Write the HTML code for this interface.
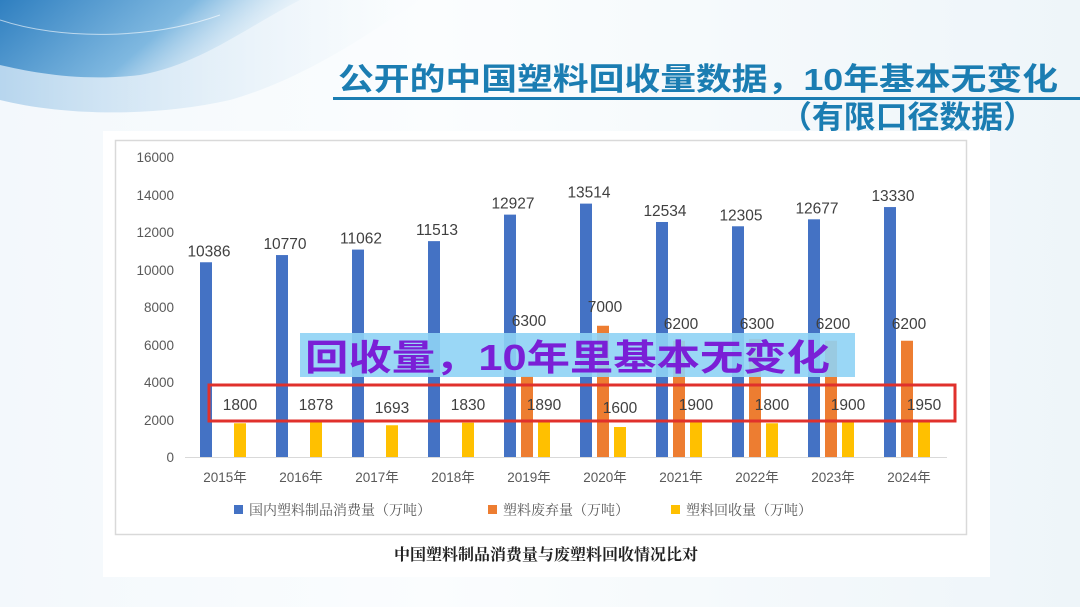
<!DOCTYPE html>
<html><head><meta charset="utf-8"><style>
html,body{margin:0;padding:0}
body{width:1080px;height:607px;overflow:hidden;position:relative;background:linear-gradient(90deg,#f3f8fc 0%,#fbfdfe 40%,#eef5f9 100%);font-family:"Liberation Sans","Noto Sans CJK SC",sans-serif}
</style></head><body>
<svg width="1080" height="607" viewBox="0 0 1080 607" style="position:absolute;left:0;top:0">
<defs>
<linearGradient id="w1" x1="0" y1="0" x2="1" y2="0.3"><stop offset="0" stop-color="#2f7fc0"/><stop offset="0.6" stop-color="#7fb8e0"/><stop offset="1" stop-color="#dcecf7" stop-opacity="0"/></linearGradient>
<linearGradient id="w2" x1="0" y1="0" x2="1" y2="0"><stop offset="0" stop-color="#a8cdea"/><stop offset="1" stop-color="#e6f1f9" stop-opacity="0"/></linearGradient>
</defs>
<path d="M0 0 L420 0 C360 40 300 80 230 100 C150 118 60 115 0 100 Z" fill="url(#w2)" opacity="0.8"/>
<path d="M0 0 L300 0 C250 25 200 65 140 75 C80 82 30 72 0 65 Z" fill="url(#w1)"/>
<path d="M0 20 C60 40 150 40 220 15" stroke="#fff" stroke-width="1" fill="none" opacity="0.6"/>
<rect x="103" y="131" width="887" height="446" fill="#fff"/>
<text x="338" y="90" font-size="31" font-weight="bold" fill="#1b7db2" textLength="720" lengthAdjust="spacingAndGlyphs" font-family="Liberation Sans,Noto Sans CJK SC,sans-serif">公开的中国塑料回收量数据，10年基本无变化</text>
<rect x="333" y="97" width="747" height="3" fill="#1b7db2"/>
<text x="780" y="128" font-size="31" font-weight="bold" fill="#1b7db2" textLength="255" lengthAdjust="spacingAndGlyphs" font-family="Liberation Sans,Noto Sans CJK SC,sans-serif">（有限口径数据）</text>
<rect x="115.5" y="140.5" width="851" height="394" fill="#fff" stroke="#d9d9d9" stroke-width="1.5"/>
<g font-size="13.5" fill="#595959" text-anchor="end">
<text x="174" y="162">16000</text><text x="174" y="200">14000</text><text x="174" y="237">12000</text><text x="174" y="275">10000</text><text x="174" y="312">8000</text><text x="174" y="350">6000</text><text x="174" y="387">4000</text><text x="174" y="425">2000</text><text x="174" y="462">0</text>
</g>
<line x1="185" y1="457.5" x2="947" y2="457.5" stroke="#d9d9d9"/>
<g id="bars"></g>
<rect x="300" y="333" width="555" height="44" fill="#8fd3f5" opacity="0.9"/>
<text x="305" y="370" font-size="36" font-weight="bold" fill="#7a1fd6" textLength="525" lengthAdjust="spacingAndGlyphs" font-family="Liberation Sans,Noto Sans CJK SC,sans-serif">回收量，10年里基本无变化</text>
<rect x="209" y="385" width="746" height="36" fill="none" stroke="#e0312c" stroke-width="3"/>
<g id="lbl" font-size="15.5" fill="#404040" text-anchor="middle"></g>
<g font-size="13.5" fill="#595959" text-anchor="middle" id="xl"></g>
<g font-size="14" fill="#595959" font-family="Liberation Serif,Noto Serif CJK SC,serif">
<rect x="234" y="505" width="9" height="9" fill="#4472c4"/><text x="249" y="515">国内塑料制品消费量（万吨）</text>
<rect x="488" y="505" width="9" height="9" fill="#ed7d31"/><text x="503" y="515">塑料废弃量（万吨）</text>
<rect x="671" y="505" width="9" height="9" fill="#ffc000"/><text x="686" y="515">塑料回收量（万吨）</text>
</g>
<text x="546" y="560" font-size="16" font-weight="bold" fill="#222" text-anchor="middle" font-family="Liberation Serif,Noto Serif CJK SC,serif">中国塑料制品消费量与废塑料回收情况比对</text>
</svg>
<script>
var blue=[10386,10770,11062,11513,12927,13514,12534,12305,12677,13330];
var org=[0,0,0,0,4300,7000,6200,6300,6200,6200];
var orgL=[null,null,null,null,6300,7000,6200,6300,6200,6200];
var yel=[1800,1878,1693,1830,1890,1600,1900,1800,1900,1950];
var ns="http://www.w3.org/2000/svg",g=document.getElementById('bars'),l=document.getElementById('lbl'),xl=document.getElementById('xl');
function r(x,v,c){var e=document.createElementNS(ns,'rect');var h=v*0.01875;e.setAttribute('x',x-6);e.setAttribute('y',457-h);e.setAttribute('width',12);e.setAttribute('height',h);e.setAttribute('fill',c);g.appendChild(e);}
function t(p,x,y,s){var e=document.createElementNS(ns,'text');e.setAttribute('x',x);e.setAttribute('y',y);e.textContent=s;p.appendChild(e);}
for(var i=0;i<10;i++){var c=223+76*i;
r(c-17,blue[i],'#4472c4');if(org[i])r(c,org[i],'#ed7d31');r(c+17,yel[i],'#ffc000');
t(l,c-14,457-blue[i]*0.01875-6,blue[i]);
if(orgL[i])t(l,c+2,i==5?312:i==4?326:329,orgL[i]);
t(l,c+17,i==2||i==5?413:410,yel[i]);
t(xl,c+2,482,(2015+i)+'年');}
</script>
</body></html>
